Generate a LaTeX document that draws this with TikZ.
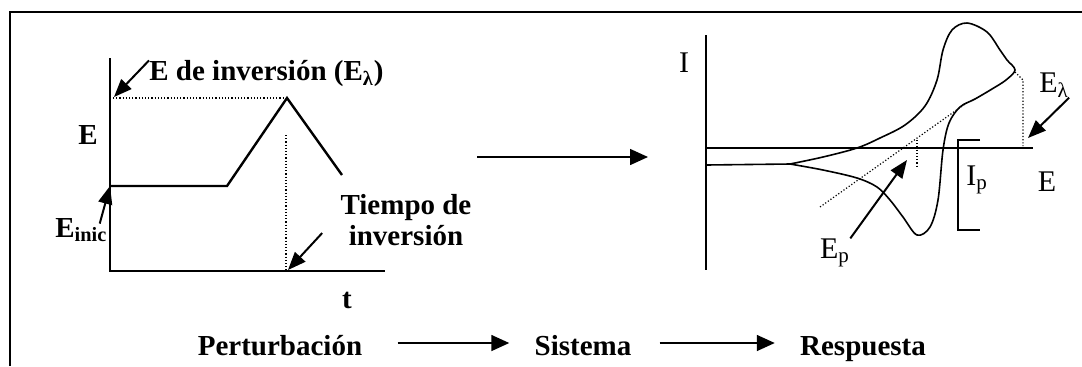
\documentclass[tikz,border=0pt]{standalone}
\usepackage{fontspec}
\setmainfont{Liberation Serif}
\usetikzlibrary{calc}
\usetikzlibrary{arrows.meta}

\begin{document}
\begin{tikzpicture}[x=.5pt, y=-.5pt,
 lbl/.style={font=\fontsize{14.5}{15.5}\selectfont\bfseries, inner sep=0},
 plbl/.style={font=\fontsize{15}{16}\selectfont, inner sep=0},
 flecha/.style={-{Triangle[length=9pt,width=7pt]}, line width=1pt},
 flujo/.style={-{Triangle[length=9pt,width=8pt]}, line width=.8pt},
 punteado/.style={densely dotted, line width=.6pt}]
\useasboundingbox (0,0) rectangle (1082,366);
\draw[line width=1pt] (10,366)--(10,12)--(1082,12);
\draw[line width=1pt] (110,58)--(110,271)--(385,271);
\coordinate (ini) at (110,186);
\coordinate (pico) at (287,98);
\coordinate (tinv) at (288,270);
\coordinate (elam) at (114,97);
\draw[line width=1.2pt] (ini)--(227,186)--(pico)--(342,175);
\draw[punteado] (113,98)--(pico);
\draw[punteado] (286,135)--(286,271);
\node[lbl] (ejeE) at (88,135) {E};
\node[lbl] (ejet) at (347,300) {t};
\node[lbl, anchor=west] (einv) at (149,74) {E de inversión (E\textsubscript{λ})};
\node[lbl, anchor=base west] (einic) at (55,237) {E\textsubscript{inic}};
\node[lbl, align=center] (tiempo) at (406,220) {Tiempo de\\inversión};
\draw[flecha] (einv.north west) -- (elam);
\draw[flecha] ($(einic.north east)+(-8,6)$) -- (ini);
\draw[flecha] ($(tiempo.west)+(-18,13)$) -- (tinv);
\coordinate (m1) at (477,157);
\coordinate (m2) at (648,157);
\draw[flujo] (m1) -- (m2);
\node[lbl, anchor=base] (pert) at (280,355) {Perturbación};
\node[lbl, anchor=base] (sis) at (583,355) {Sistema};
\node[lbl, anchor=base] (resp) at (863,355) {Respuesta};
\draw[flujo] ($(pert.base east)+(35,-12)$) -- ($(sis.base west)+(-25,-12)$);
\draw[flujo] ($(sis.base east)+(28,-12)$) -- ($(resp.base west)+(-25,-12)$);
\draw[line width=1pt] (706,35)--(706,270);
\draw[line width=1pt] (706,148)--(1033,148);
\node[plbl] (ejeI) at (684,63) {I};
\node[plbl] (ejeE2) at (1047,182) {E};
\node[plbl] (el) at (1054,85) {E\textsubscript{λ}};
\node[plbl] (ip) at (977,180) {I\textsubscript{p}};
\node[plbl] (ep) at (835,253) {E\textsubscript{p}};
\coordinate (pEp) at (907,160);
\coordinate (pEl) at (1028,138);
\draw[line width=.8pt] (980,140)--(958,140)--(958,230)--(980,230);
\draw[line width=.8pt] (706,165)--(790,164);
\draw[line width=.8pt] plot[smooth, tension=.55] coordinates {(790,164) (823,170) (857,178) (877,187) (890,200) (903,217) (917,235) (930,227) (938,200) (943,150) (949,123) (960,107) (975,99) (992,89) (1006,80) (1015,70) (1007,60) (1000,50) (987,32) (967,23) (952,30) (943,50) (937,80) (925,106) (905,125) (880,138) (857,148) (823,157) (790,164)};
\draw[punteado] (820,207)--(965,104);
\draw[punteado] (917,140)--(917,167);
\draw[punteado] (1015,72)--(1023,80)--(1023,146);
\draw[flecha] (ep.north east) -- (pEp);
\draw[flecha] (el.south east) -- (pEl);
\end{tikzpicture}
\end{document}
